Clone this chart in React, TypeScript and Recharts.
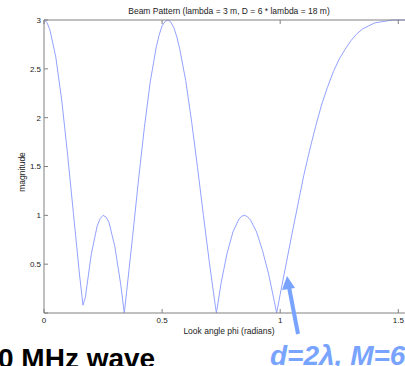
import { LineChart, Line, XAxis, YAxis } from "recharts";

// look angle phi (radians)
const phi = [
  0, 0.0125, 0.025, 0.05, 0.075, 0.1, 0.125, 0.15, 0.165, 0.175, 0.2, 0.225,
  0.2375, 0.25, 0.2625, 0.275, 0.3, 0.325, 0.34, 0.35, 0.375, 0.4, 0.425, 0.45,
  0.475, 0.4875, 0.5, 0.5125, 0.525, 0.5375, 0.55, 0.5625, 0.575, 0.6, 0.625,
  0.65, 0.675, 0.7, 0.725, 0.73, 0.75, 0.775, 0.8, 0.825, 0.8375, 0.85, 0.8625,
  0.875, 0.9, 0.925, 0.95, 0.975, 0.985, 1.0, 1.025, 1.05, 1.075, 1.1, 1.125,
  1.15, 1.175, 1.2, 1.225, 1.25, 1.275, 1.3, 1.325, 1.35, 1.375, 1.4, 1.425,
  1.45, 1.475, 1.5, 1.525, 1.55, 1.5708,
];

// beam pattern magnitude at each phi
const magnitude = [
  3, 2.975, 2.9, 2.62, 2.18, 1.62, 1.01, 0.4, 0.08, 0.16, 0.6, 0.89,
  0.966, 1.0, 0.983, 0.93, 0.68, 0.29, 0, 0.22, 0.78, 1.36, 1.9, 2.37,
  2.72, 2.845, 2.94, 2.985, 3, 2.977, 2.92, 2.827, 2.7, 2.38, 1.96,
  1.49, 1.0, 0.52, 0.08, 0, 0.31, 0.61, 0.83, 0.96, 0.992, 1.0, 0.984,
  0.95, 0.83, 0.64, 0.41, 0.12, 0, 0.19, 0.5, 0.81, 1.11, 1.41, 1.67,
  1.91, 2.13, 2.31, 2.47, 2.6, 2.7, 2.79, 2.86, 2.91, 2.94, 2.97, 2.98,
  2.99, 3, 3, 3, 3, 3,
];

const xTicks = [0, 0.5, 1, 1.5];
const yTicks = [0, 0.5, 1, 1.5, 2, 2.5, 3];

const data = phi.map((p, i) => ({ phi: p, mag: magnitude[i] }));

const axisColor = "#808080";
const font = "'Liberation Sans', Arial, sans-serif";

export default function App() {
  return (
    <div
      style={{
        position: "absolute",
        left: 0,
        top: 0,
        width: 405,
        height: 366,
        overflow: "hidden",
        background: "#fff",
        fontFamily: font,
      }}
    >
      <LineChart
        width={430}
        height={366}
        data={data}
        margin={{ top: 0, right: 15, bottom: 13, left: 0 }}
      >
        <XAxis
          xAxisId="top"
          orientation="top"
          dataKey="phi"
          type="number"
          domain={[0, Math.PI / 2]}
          ticks={xTicks}
          height={20}
          stroke={axisColor}
          tickSize={-4}
          tickFormatter={() => ""}
        />
        <XAxis
          dataKey="phi"
          type="number"
          domain={[0, Math.PI / 2]}
          ticks={xTicks}
          height={40}
          stroke={axisColor}
          tickSize={-4}
          tickMargin={8}
          tick={{ fill: "#222", fontSize: 8, fontFamily: font }}
        />
        <YAxis
          type="number"
          domain={[0, 3]}
          ticks={yTicks}
          width={44}
          stroke={axisColor}
          tickSize={-4}
          tickMargin={7}
          tickFormatter={(v: number) => (v === 0 ? "" : String(v))}
          tick={{ fill: "#222", fontSize: 8, fontFamily: font }}
        />
        <Line
          xAxisId={0}
          dataKey="mag"
          type="linear"
          stroke="#93a2ff"
          strokeWidth={1}
          dot={false}
          isAnimationActive={false}
        />
      </LineChart>
      <svg
        width={405}
        height={366}
        style={{ position: "absolute", left: 0, top: 0, pointerEvents: "none" }}
      >
        <text x={229} y={14} textAnchor="middle" fontSize={8.5} fill="#222" fontFamily={font}>
          Beam Pattern (lambda = 3 m, D = 6 * lambda = 18 m)
        </text>
        <text x={229} y={334} textAnchor="middle" fontSize={8.5} fill="#222" fontFamily={font}>
          Look angle phi (radians)
        </text>
        <text
          x={0}
          y={0}
          transform="translate(25,172) rotate(-90)"
          textAnchor="middle"
          fontSize={8.5}
          fill="#222"
          fontFamily={font}
        >
          magnitude
        </text>
        {/* arrow pointing at the curve */}
        <line x1={298} y1={334} x2={289} y2={287} stroke="#78a3ff" strokeWidth={4} />
        <polygon points="287,276 282,290 295,288" fill="#78a3ff" />
        <text
          x={270}
          y={365}
          fontSize={28}
          fontWeight="bold"
          fontStyle="italic"
          fill="#78a3ff"
          fontFamily={font}
        >
          d=2λ, M=6
        </text>
        <text x={-2} y={368} fontSize={28} fontWeight="bold" fill="#000" fontFamily={font}>
          0 MHz wave
        </text>
      </svg>
    </div>
  );
}
